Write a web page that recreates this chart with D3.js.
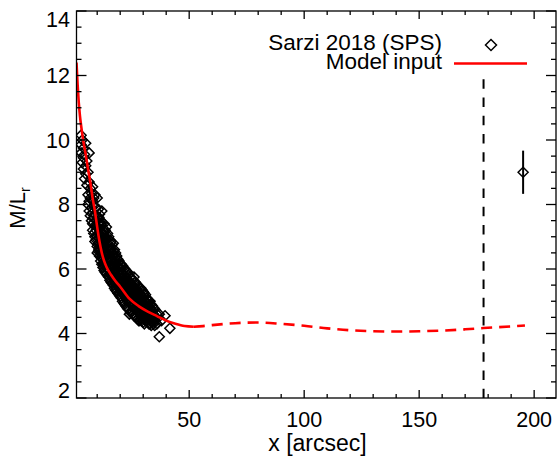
<!DOCTYPE html>
<html>
<head>
<meta charset="utf-8">
<script src="https://cdn.jsdelivr.net/npm/d3@7"></script>
<style>
  body { margin: 0; background: #fff; }
  svg { display: block; }
  text { font-family: "Liberation Sans", Arial, Helvetica, sans-serif; fill: #000; }
</style>
</head>
<body>
<svg id="chart" width="557" height="458"></svg>
<script>
// Axis ticks
const xMajorTicks = [50, 100, 150, 200];
const xMinorTicks = [10, 20, 30, 40, 60, 70, 80, 90, 110, 120, 130, 140, 160, 170, 180, 190];
const yMajorTicks = [2, 4, 6, 8, 10, 12, 14];
const yMinorTicks = [2.5, 3, 3.5, 4.5, 5, 5.5, 6.5, 7, 7.5, 8.5, 9, 9.5, 10.5, 11, 11.5, 12.5, 13, 13.5];

// Sarzi 2018 SPS mass-to-light ratios, grouped by radius (arcsec)
const sarziRadii = [
  3.0, 3.5, 4.0, 4.5, 5.0, 5.5, 6.0, 6.5, 7.0, 7.5, 8.0, 8.5, 9.0, 9.5, 10, 10.5, 10.75, 11, 11.5, 11.75,
  12, 12.5, 12.75, 13, 13.5, 14, 14.5, 15, 15.5, 16, 16.5, 17, 17.5, 18, 18.5, 19, 19.5, 20, 20.5,
  21, 21.5, 22, 22.5, 23, 23.5, 24, 24.5, 25, 25.5, 26, 26.5, 27, 27.5, 28, 28.5, 29, 29.5, 30, 30.5,
  31, 31.5, 32, 32.5, 33, 33.5, 34, 34.5, 35, 36, 37, 38, 39.5, 41.6
];
const sarziML = [
  [10.15, 9.85, 9.6], [10.0, 9.3], [9.75, 9.45, 9.1], [9.55, 8.8], [9.9, 9.2, 8.95],
  [9.35, 8.6], [9.0, 8.3, 8.0], [9.6, 8.7, 8.1, 7.8], [8.5, 8.2, 7.65], [8.35, 7.9, 7.5],
  [8.55, 8.1, 7.75, 7.4, 7.2], [8.2, 7.95, 7.6, 7.1], [8.3, 7.7, 7.35, 7.0, 6.85],
  [7.9, 7.5, 7.2, 6.9], [8.2, 7.6, 7.3, 7.0, 6.7, 6.5], [7.85, 7.4, 7.1, 6.8, 6.55],
  [7.6, 7.25, 6.95, 6.6], [7.7, 7.25, 6.95, 6.65, 6.4], [7.5, 7.15, 6.85, 6.5, 6.25],
  [7.4, 7.0, 6.75, 6.35], [7.8, 7.35, 7.0, 6.7, 6.4, 6.15], [7.2, 6.9, 6.6, 6.3, 6.05],
  [7.1, 6.85, 6.5, 6.15], [7.4, 7.05, 6.75, 6.45, 6.2, 5.95], [7.2, 6.95, 6.7, 6.4, 6.15, 5.9],
  [7.3, 6.9, 6.6, 6.3, 6.05, 5.85], [7.1, 6.8, 6.5, 6.25, 6.0, 5.8],
  [7.0, 6.7, 6.45, 6.2, 5.95, 5.75], [6.9, 6.6, 6.35, 6.1, 5.85, 5.65],
  [6.85, 6.6, 6.3, 6.05, 5.8, 5.6], [6.75, 6.5, 6.25, 6.0, 5.75, 5.55],
  [6.8, 6.45, 6.2, 5.95, 5.7, 5.5], [6.6, 6.35, 6.1, 5.85, 5.6, 5.4],
  [6.5, 6.25, 6.0, 5.75, 5.55, 5.35], [6.4, 6.15, 5.95, 5.7, 5.5, 5.3],
  [6.3, 6.1, 5.9, 5.65, 5.45, 5.25], [6.25, 6.05, 5.85, 5.6, 5.4, 5.2],
  [6.15, 6.0, 5.8, 5.55, 5.35, 5.15], [6.15, 5.9, 5.7, 5.5, 5.3, 5.1],
  [6.1, 5.85, 5.65, 5.45, 5.25, 5.0], [6.05, 5.8, 5.6, 5.4, 5.2, 4.95],
  [6.0, 5.8, 5.55, 5.35, 5.15, 4.9], [5.95, 5.75, 5.5, 5.3, 5.1, 4.85],
  [5.9, 5.7, 5.5, 5.3, 5.05, 4.8], [5.8, 5.6, 5.45, 5.25, 5.0, 4.75],
  [5.85, 5.6, 5.4, 5.2, 4.95, 4.6], [5.75, 5.55, 5.35, 5.15, 4.95, 4.65],
  [5.7, 5.5, 5.3, 5.1, 4.9, 4.7], [5.65, 5.45, 5.25, 5.05, 4.85, 4.6],
  [5.75, 5.45, 5.25, 5.05, 4.85, 4.55], [5.6, 5.4, 5.2, 5.0, 4.8, 4.55],
  [5.55, 5.35, 5.15, 4.95, 4.75, 4.5], [5.5, 5.3, 5.1, 4.9, 4.7, 4.45],
  [5.45, 5.25, 5.05, 4.85, 4.65, 4.4], [5.4, 5.2, 5.0, 4.8, 4.6, 4.4],
  [5.4, 5.2, 5.0, 4.8, 4.6, 4.45], [5.35, 5.15, 4.95, 4.75, 4.55, 4.4],
  [5.3, 5.1, 4.9, 4.7, 4.5, 4.35], [5.25, 5.05, 4.85, 4.65, 4.45, 4.3],
  [5.2, 5.0, 4.8, 4.6, 4.4], [5.1, 4.95, 4.75, 4.55, 4.4],
  [5.05, 4.9, 4.7, 4.5, 4.35], [5.0, 4.85, 4.65, 4.45, 4.3],
  [5.0, 4.8, 4.6, 4.45, 4.3], [4.9, 4.75, 4.55, 4.4, 4.25],
  [4.85, 4.7, 4.5, 4.35], [4.8, 4.6, 4.45, 4.3],
  [4.75, 4.55, 4.4, 4.25], [4.6, 4.45, 4.3],
  [4.6, 3.9], [4.4], [4.55], [4.16]
];

// Model input M/L profile
const modelRadius = [1, 1.5, 2, 2.5, 3, 4, 5, 6, 7, 8, 9, 10, 11, 12, 13, 14, 16, 18, 20, 24, 28, 32, 36, 40, 44, 48, 52];
const modelML     = [12.4, 11.7, 11.15, 10.75, 10.45, 9.95, 9.55, 9.1, 8.7, 8.2, 7.8, 7.3, 6.85, 6.5, 6.25, 6.07, 5.82, 5.62, 5.45, 5.08, 4.85, 4.68, 4.54, 4.4, 4.3, 4.23, 4.21];
// Extrapolated part of the model (dashed)
const extrapRadius = [52, 56, 60, 70, 80, 90, 100, 110, 120, 130, 140, 150, 160, 170, 178, 190, 196];
const extrapML     = [4.21, 4.23, 4.26, 4.32, 4.34, 4.3, 4.24, 4.16, 4.1, 4.07, 4.06, 4.07, 4.09, 4.13, 4.17, 4.22, 4.25];

// Field-of-view limit and representative error bar
const fovRadius = 178;
const fovTopML = 11.88;
const errPoint = { r: 195.2, ml: 9.0, err: 0.67 };

const plot = { left: 76.5, right: 556, top: 11, bottom: 398 };

const svg = d3.select("#chart");
const x = d3.scaleLinear().domain([1, 209.5]).range([plot.left, plot.right]);
const y = d3.scaleLinear().domain([2, 14]).range([plot.bottom, plot.top]);

svg.append("defs").append("clipPath").attr("id", "clip")
  .append("rect").attr("x", plot.left).attr("y", plot.top)
  .attr("width", plot.right - plot.left).attr("height", plot.bottom - plot.top);

const diamond = (cx, cy, r) => `M${cx},${cy - r}L${cx + r},${cy}L${cx},${cy + r}L${cx - r},${cy}Z`;

// Scatter points
const pts = [];
sarziRadii.forEach((r, i) => sarziML[i].forEach(v => pts.push([r, v])));
const gPts = svg.append("g").attr("clip-path", "url(#clip)");
gPts.selectAll("path").data(pts).join("path")
  .attr("d", d => diamond(x(d[0]), y(d[1]), 5))
  .attr("fill", "none").attr("stroke", "#000").attr("stroke-width", 1.5);

// Model curves
const line = d3.line().x(d => x(d[0])).y(d => y(d[1])).curve(d3.curveMonotoneX);
const gLines = svg.append("g").attr("clip-path", "url(#clip)");
gLines.append("path").datum(modelRadius.map((r, i) => [r, modelML[i]]))
  .attr("d", line).attr("fill", "none").attr("stroke", "#ff0000").attr("stroke-width", 2.6);
gLines.append("path").datum(extrapRadius.map((r, i) => [r, extrapML[i]]))
  .attr("d", line).attr("fill", "none").attr("stroke", "#ff0000").attr("stroke-width", 2.6)
  .attr("stroke-dasharray", "11,7");

// Vertical dashed line
svg.append("line")
  .attr("x1", x(fovRadius)).attr("x2", x(fovRadius))
  .attr("y1", y(fovTopML)).attr("y2", y(2))
  .attr("stroke", "#000").attr("stroke-width", 2).attr("stroke-dasharray", "9.5,8.7");

// Error bar point
svg.append("line")
  .attr("x1", x(errPoint.r)).attr("x2", x(errPoint.r))
  .attr("y1", y(errPoint.ml + errPoint.err)).attr("y2", y(errPoint.ml - errPoint.err))
  .attr("stroke", "#000").attr("stroke-width", 2);
svg.append("path").attr("d", diamond(x(errPoint.r), y(errPoint.ml), 5))
  .attr("fill", "none").attr("stroke", "#000").attr("stroke-width", 1.5);

// Frame and ticks
const axes = svg.append("g").attr("stroke", "#000").attr("stroke-width", 1.3);
axes.append("rect").attr("x", plot.left).attr("y", plot.top)
  .attr("width", plot.right - plot.left).attr("height", plot.bottom - plot.top)
  .attr("fill", "none");
const tick = (x1, y1, x2, y2) => axes.append("line").attr("x1", x1).attr("y1", y1).attr("x2", x2).attr("y2", y2);
xMajorTicks.forEach(t => { tick(x(t), plot.bottom, x(t), plot.bottom - 8); tick(x(t), plot.top, x(t), plot.top + 8); });
xMinorTicks.forEach(t => { tick(x(t), plot.bottom, x(t), plot.bottom - 4); tick(x(t), plot.top, x(t), plot.top + 4); });
yMajorTicks.forEach(t => { tick(plot.left, y(t), plot.left + 10, y(t)); tick(plot.right, y(t), plot.right - 10, y(t)); });
yMinorTicks.forEach(t => { tick(plot.left, y(t), plot.left + 5, y(t)); tick(plot.right, y(t), plot.right - 5, y(t)); });

// Tick labels (end labels are kept inside the axis span)
svg.append("g").selectAll("text").data(xMajorTicks).join("text")
  .attr("x", d => x(d)).attr("y", 427).attr("text-anchor", "middle")
  .attr("font-size", 21.5).text(d => d);
const yDomain = y.domain();
svg.append("g").selectAll("text").data(yMajorTicks).join("text")
  .attr("x", 70)
  .attr("y", d => y(d) + (d === yDomain[1] ? 15.5 : d === yDomain[0] ? 0 : 7.8))
  .attr("text-anchor", "end")
  .attr("font-size", 21.5).text(d => d);

// Axis titles
svg.append("text").attr("x", 317.5).attr("y", 451).attr("text-anchor", "middle")
  .attr("font-size", 23).text("x [arcsec]");
const yt = svg.append("text").attr("transform", "translate(25,208) rotate(-90)")
  .attr("text-anchor", "middle").attr("font-size", 22);
yt.append("tspan").text("M/L");
yt.append("tspan").attr("font-size", 14).attr("dy", 5).text("r");

// Legend
svg.append("text").attr("x", 442).attr("y", 49.5).attr("text-anchor", "end")
  .attr("font-size", 22.5).text("Sarzi 2018 (SPS)");
svg.append("path").attr("d", diamond(491, 45, 5.5))
  .attr("fill", "none").attr("stroke", "#000").attr("stroke-width", 1.5);
svg.append("text").attr("x", 442).attr("y", 68.5).attr("text-anchor", "end")
  .attr("font-size", 22.5).text("Model input");
svg.append("line").attr("x1", 454).attr("x2", 527).attr("y1", 63.5).attr("y2", 63.5)
  .attr("stroke", "#ff0000").attr("stroke-width", 2.6);
</script>
</body>
</html>
